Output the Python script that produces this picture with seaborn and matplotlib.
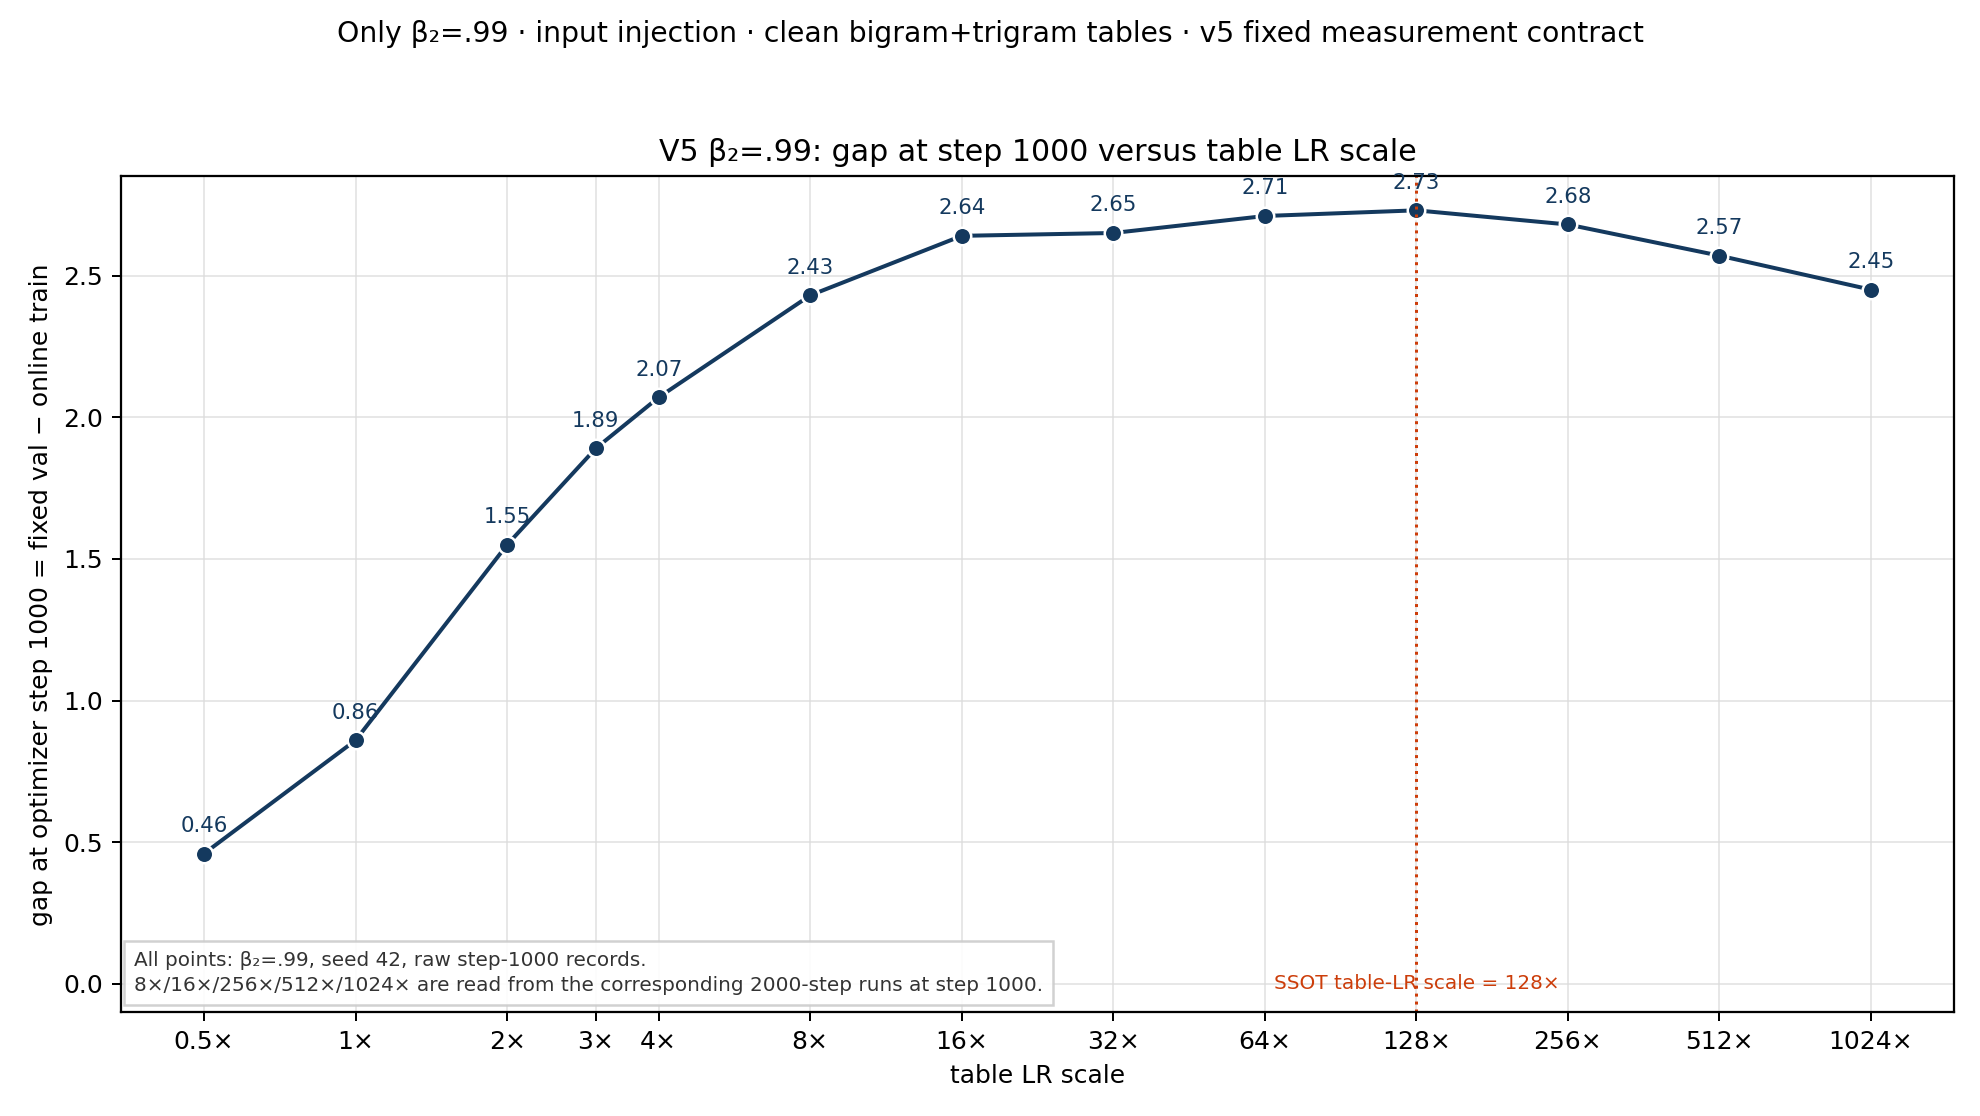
import pandas as pd
import matplotlib.pyplot as plt
import seaborn as sns

# table LR scale multipliers and gap at step 1000
lr_scale = [0.5, 1, 2, 3, 4, 8, 16, 32, 64, 128, 256, 512, 1024]
gap = [0.46, 0.86, 1.55, 1.89, 2.07, 2.43, 2.64, 2.65, 2.71, 2.73, 2.68, 2.57, 2.45]
tick_labels = ["0.5×", "1×", "2×", "3×", "4×", "8×", "16×", "32×", "64×",
               "128×", "256×", "512×", "1024×"]
ssot_scale = 128

navy = "#14395e"
rust = "#cc3d0a"

df = pd.DataFrame({"scale": lr_scale, "gap": gap})

sns.set_style("white")
plt.rcParams["text.color"] = "black"
plt.rcParams["axes.labelcolor"] = "black"
plt.rcParams["xtick.color"] = "black"
plt.rcParams["ytick.color"] = "black"

fig, ax = plt.subplots(figsize=(11, 6.2), dpi=180)
fig.subplots_adjust(left=0.061, right=0.987, top=0.842, bottom=0.093)

sns.lineplot(data=df, x="scale", y="gap", ax=ax, color=navy, linewidth=1.6,
             marker="o", markersize=7, markeredgecolor="white", markeredgewidth=1.0)
ax.set_xscale("log", base=2)
ax.set_xticks(lr_scale)
ax.set_xticklabels(tick_labels, fontsize=10)
ax.minorticks_off()
ax.tick_params(axis="both", which="major", length=3.5, width=0.8, direction="out",
               bottom=True, left=True, labelsize=10)
ax.set_ylim(-0.1, 2.85)
ax.grid(True, color="#dddddd", linewidth=0.7, alpha=0.8)
for s in ax.spines.values():
    s.set_color("black")
    s.set_linewidth(0.9)

for x, y in zip(lr_scale, gap):
    ax.annotate(f"{y:.2f}", (x, y), xytext=(0, 7), textcoords="offset points",
                ha="center", va="bottom", fontsize=8.5, color=navy)

ax.axvline(ssot_scale, color=rust, linestyle=":", linewidth=1.2)
ax.text(ssot_scale, 0.0, f"SSOT table-LR scale = {ssot_scale}×", color=rust,
        fontsize=8, ha="center", va="center")

ax.text(0.007, 0.02,
        "All points: β₂=.99, seed 42, raw step-1000 records.\n"
        "8×/16×/256×/512×/1024× are read from the corresponding 2000-step runs at step 1000.",
        transform=ax.transAxes, fontsize=8, color="#333333", va="bottom", ha="left",
        linespacing=1.4,
        bbox=dict(boxstyle="square,pad=0.5", facecolor="white", edgecolor="#cccccc", alpha=0.9))

ax.set_title("V5 β₂=.99: gap at step 1000 versus table LR scale", fontsize=12)
ax.set_xlabel("table LR scale", fontsize=10)
ax.set_ylabel("gap at optimizer step 1000 = fixed val − online train", fontsize=10)
fig.suptitle("Only β₂=.99 · input injection · clean bigram+trigram tables · v5 fixed measurement contract",
             fontsize=11.3, y=0.982)

plt.savefig("out.png", dpi=180)
